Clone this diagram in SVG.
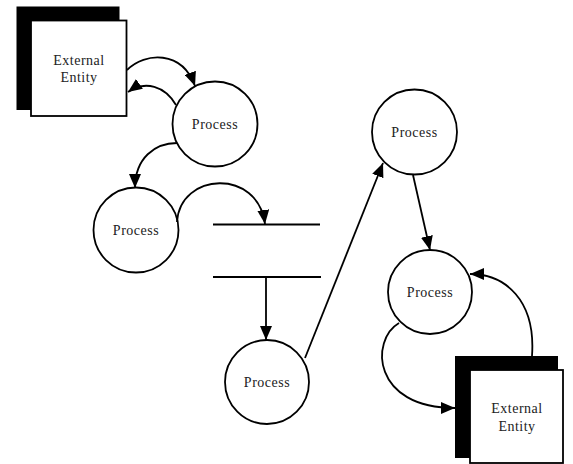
<svg xmlns="http://www.w3.org/2000/svg" width="573" height="464" viewBox="0 0 573 464">
<defs>
<marker id="ah" markerUnits="userSpaceOnUse" markerWidth="15" markerHeight="12" refX="14" refY="6" orient="auto">
<path d="M0,0 L14,6 L0,12 Z" fill="#000"/>
</marker>
<style>
.c{fill:#fff;stroke:#000;stroke-width:1.8}
.t{font-family:"Liberation Serif","DejaVu Serif",serif;font-size:14px;fill:#222;text-anchor:middle;letter-spacing:0.5px}
.e{fill:none;stroke:#000;stroke-width:1.8;marker-end:url(#ah)}
.s{fill:none;stroke:#000;stroke-width:1.8}
.sh{fill:#000}
.b{fill:#fff;stroke:#000;stroke-width:1.8}
</style>
</defs>
<rect width="573" height="464" fill="#fff"/>
<g id="entity1">
<rect class="sh" x="16.5" y="6.5" width="103" height="103.5"/>
<rect class="b" x="31" y="20.5" width="95.5" height="95.5"/>
<text class="t" x="79" y="65">External</text>
<text class="t" x="79" y="82">Entity</text>
</g>
<g id="process1">
<circle class="c" cx="215" cy="124" r="42.5"/>
<text class="t" x="215" y="129">Process</text>
</g>
<g id="process2">
<circle class="c" cx="136" cy="230" r="42.5"/>
<text class="t" x="136" y="235">Process</text>
</g>
<g id="datastore">
<line class="s" x1="213" y1="224.5" x2="320" y2="224.5"/>
<line class="s" x1="213" y1="277" x2="321" y2="277"/>
</g>
<g id="process3">
<circle class="c" cx="414.5" cy="132" r="42.5"/>
<text class="t" x="414.5" y="137">Process</text>
</g>
<g id="process4">
<circle class="c" cx="430" cy="292" r="42"/>
<text class="t" x="430" y="297">Process</text>
</g>
<g id="process5">
<circle class="c" cx="267" cy="382" r="42"/>
<text class="t" x="267" y="387">Process</text>
</g>
<g id="entity2">
<rect class="sh" x="455" y="356" width="103" height="102"/>
<rect class="b" x="470" y="370" width="93" height="93"/>
<text class="t" x="517" y="413">External</text>
<text class="t" x="517" y="431">Entity</text>
</g>
<g id="connectors">
<path class="e" d="M127,70 C145,52 182,50 195,86"/>
<path class="e" d="M176,105 C165,86 145,80 128,92"/>
<path class="e" d="M177,143 C155,143 135,158 135,188"/>
<path class="e" d="M177,222 C180,172 258,168 265,224"/>
<path class="e" d="M266,277 L266,340"/>
<path class="e" d="M305,358 L383,163"/>
<path class="e" d="M413,175 L430,250"/>
<path class="e" d="M399,323 C370,340 372,408 455,408"/>
<path class="e" d="M532,356 C536,300 505,274 470,274"/>
</g>
</svg>
